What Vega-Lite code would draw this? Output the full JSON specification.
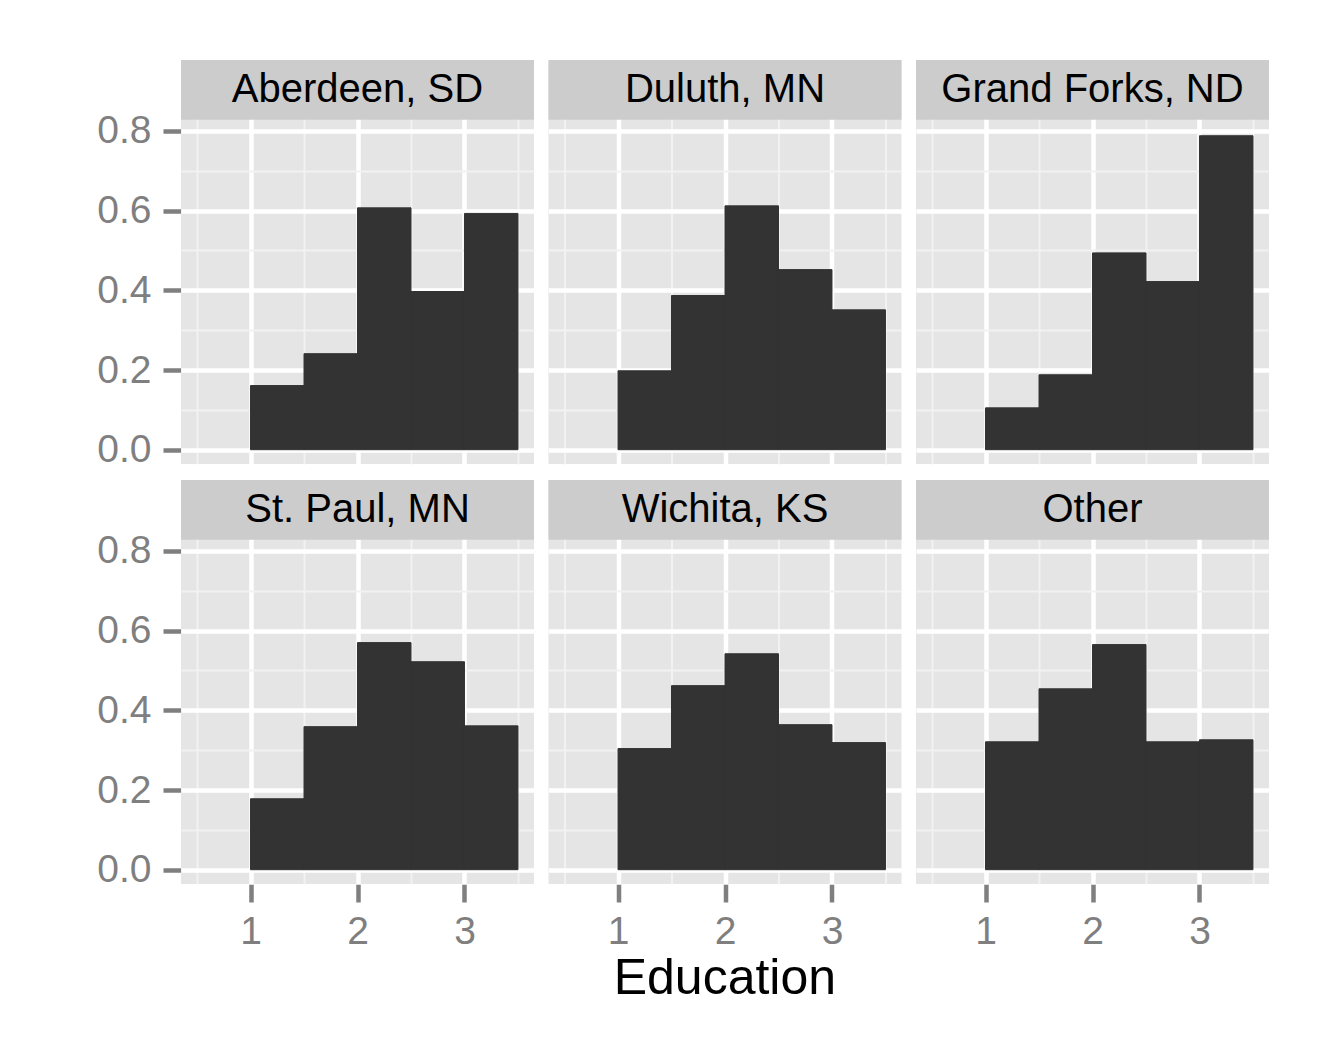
{
  "$schema": "https://vega.github.io/schema/vega-lite/v6.json",
  "padding": {"left": 96, "top": 59, "right": 5, "bottom": 5},
  "background": "white",
  "title": {"text": "Education", "orient": "bottom", "anchor": "middle", "fontSize": 50, "fontWeight": "normal", "color": "black", "font": "Liberation Sans", "offset": 3, "dx": 42},
  "data": {"values": [
    {"city": "Aberdeen, SD", "start": 1.0, "end": 1.5, "density": 0.161},
    {"city": "Aberdeen, SD", "start": 1.5, "end": 2.0, "density": 0.241},
    {"city": "Aberdeen, SD", "start": 2.0, "end": 2.5, "density": 0.607},
    {"city": "Aberdeen, SD", "start": 2.5, "end": 3.0, "density": 0.397},
    {"city": "Aberdeen, SD", "start": 3.0, "end": 3.5, "density": 0.593},
    {"city": "Duluth, MN", "start": 1.0, "end": 1.5, "density": 0.198},
    {"city": "Duluth, MN", "start": 1.5, "end": 2.0, "density": 0.387},
    {"city": "Duluth, MN", "start": 2.0, "end": 2.5, "density": 0.612},
    {"city": "Duluth, MN", "start": 2.5, "end": 3.0, "density": 0.452},
    {"city": "Duluth, MN", "start": 3.0, "end": 3.5, "density": 0.351},
    {"city": "Grand Forks, ND", "start": 1.0, "end": 1.5, "density": 0.105},
    {"city": "Grand Forks, ND", "start": 1.5, "end": 2.0, "density": 0.188},
    {"city": "Grand Forks, ND", "start": 2.0, "end": 2.5, "density": 0.494},
    {"city": "Grand Forks, ND", "start": 2.5, "end": 3.0, "density": 0.422},
    {"city": "Grand Forks, ND", "start": 3.0, "end": 3.5, "density": 0.788},
    {"city": "St. Paul, MN", "start": 1.0, "end": 1.5, "density": 0.178},
    {"city": "St. Paul, MN", "start": 1.5, "end": 2.0, "density": 0.359},
    {"city": "St. Paul, MN", "start": 2.0, "end": 2.5, "density": 0.570},
    {"city": "St. Paul, MN", "start": 2.5, "end": 3.0, "density": 0.522},
    {"city": "St. Paul, MN", "start": 3.0, "end": 3.5, "density": 0.361},
    {"city": "Wichita, KS", "start": 1.0, "end": 1.5, "density": 0.304},
    {"city": "Wichita, KS", "start": 1.5, "end": 2.0, "density": 0.462},
    {"city": "Wichita, KS", "start": 2.0, "end": 2.5, "density": 0.542},
    {"city": "Wichita, KS", "start": 2.5, "end": 3.0, "density": 0.364},
    {"city": "Wichita, KS", "start": 3.0, "end": 3.5, "density": 0.319},
    {"city": "Other", "start": 1.0, "end": 1.5, "density": 0.321},
    {"city": "Other", "start": 1.5, "end": 2.0, "density": 0.454},
    {"city": "Other", "start": 2.0, "end": 2.5, "density": 0.565},
    {"city": "Other", "start": 2.5, "end": 3.0, "density": 0.321},
    {"city": "Other", "start": 3.0, "end": 3.5, "density": 0.326}
  ]},
  "facet": {
    "field": "city",
    "type": "nominal",
    "sort": ["Aberdeen, SD", "Duluth, MN", "Grand Forks, ND", "St. Paul, MN", "Wichita, KS", "Other"],
    "header": {"labels": false, "labelExpr": "''", "labelPadding": 0, "labelFontSize": 1, "title": null},
    "title": null
  },
  "columns": 3,
  "spacing": {"row": 15, "column": 14.5},
  "spec": {
    "width": 353,
    "height": 404,
    "layer": [
      {
        "mark": {"type": "rect", "color": "#333333", "stroke": "#333333", "strokeWidth": 1},
        "encoding": {
          "x": {
            "field": "start", "type": "quantitative", "title": null,
            "scale": {"domain": [0.35, 3.65], "nice": false, "zero": false},
            "axis": {
              "values": [0.5, 1, 1.5, 2, 2.5, 3, 3.5],
              "labelExpr": "datum.value % 1 == 0 ? format(datum.value, 'd') : ''",
              "gridColor": {"condition": {"test": "datum.value % 1 != 0", "value": "#F2F2F2"}, "value": "#FFFFFF"},
              "gridWidth": {"condition": {"test": "datum.value % 1 != 0", "value": 2}, "value": 4.5},
              "tickOpacity": {"condition": {"test": "datum.value % 1 != 0", "value": 0}, "value": 1},
              "labelPadding": 10
            }
          },
          "x2": {"field": "end"},
          "y": {
            "field": "density", "type": "quantitative", "title": null,
            "scale": {"domain": [-0.0359, 0.9781], "nice": false, "zero": false},
            "axis": {
              "values": [0, 0.1, 0.2, 0.3, 0.4, 0.5, 0.6, 0.7, 0.8],
              "labelExpr": "round(datum.value * 10) % 2 == 1 ? '' : format(datum.value, '.1f')",
              "gridColor": {"condition": {"test": "round(datum.value * 10) % 2 == 1", "value": "#F2F2F2"}, "value": "#FFFFFF"},
              "gridWidth": {"condition": {"test": "round(datum.value * 10) % 2 == 1", "value": 2}, "value": 4.5},
              "tickOpacity": {"condition": {"test": "round(datum.value * 10) % 2 == 1", "value": 0}, "value": 1},
              "labelPadding": 12
            }
          },
          "y2": {"datum": 0}
        }
      },
      {
        "transform": [{"aggregate": [{"op": "count", "as": "n"}], "groupby": ["city"]}],
        "mark": {"type": "rect", "color": "#CCCCCC"},
        "encoding": {
          "x": {"datum": 0.35, "type": "quantitative", "title": null},
          "x2": {"datum": 3.65},
          "y": {"datum": 0.8283, "type": "quantitative", "title": null},
          "y2": {"datum": 0.9781}
        }
      },
      {
        "transform": [{"aggregate": [{"op": "count", "as": "n"}], "groupby": ["city"]}],
        "mark": {"type": "text", "fontSize": 40, "color": "black", "baseline": "middle", "align": "center"},
        "encoding": {
          "x": {"datum": 2.0, "type": "quantitative", "title": null},
          "y": {"datum": 0.9032, "type": "quantitative", "title": null},
          "text": {"field": "city"}
        }
      }
    ]
  },
  "config": {
    "font": "Liberation Sans",
    "view": {"fill": "#E5E5E5", "stroke": null},
    "header": {"labels": false, "title": null},
    "axis": {
      "domain": false,
      "labelFont": "Liberation Sans",
      "labelFontSize": 39,
      "labelColor": "#7F7F7F",
      "tickColor": "#7F7F7F",
      "tickSize": 18,
      "tickWidth": 4.5,
      "gridColor": "white",
      "labelFlush": false,
      "labelOverlap": false
    }
  }
}
